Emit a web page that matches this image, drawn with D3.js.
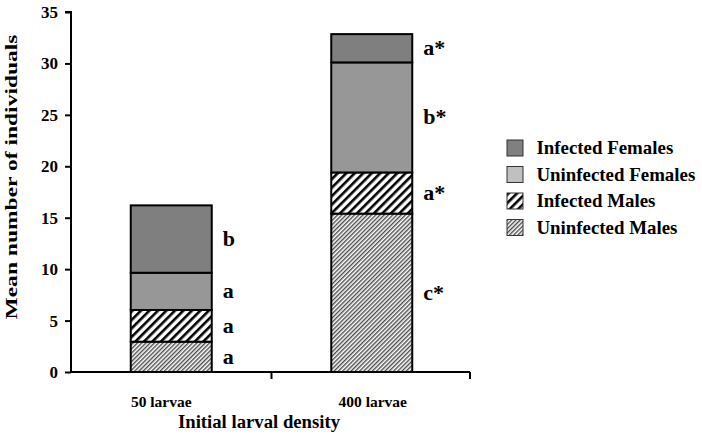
<!DOCTYPE html>
<html lang="en">
<head>
<meta charset="UTF-8">
<title>Mean number of individuals by larval density</title>
<style>
  body, html { margin: 0; padding: 0; background: #fff; }
  svg { display: block; }
  text { font-family: "Liberation Serif", "Times New Roman", serif; font-weight: bold; fill: #000; }
</style>
</head>
<body>
<script src="https://cdn.jsdelivr.net/npm/d3@7"></script>
<script>
// data
var densities = ["50 larvae", "400 larvae"];
var groups = ["Uninfected Males", "Infected Males", "Uninfected Females", "Infected Females"];
var uninfectedMales   = [2.95, 15.4];
var infectedMales     = [3.08, 4.0];
var uninfectedFemales = [3.62, 10.7];
var infectedFemales   = [6.55, 2.75];
var letters50  = ["a", "a", "a", "b"];
var letters400 = ["c*", "a*", "b*", "a*"];
var yTicks = [0, 5, 10, 15, 20, 25, 30, 35];

var width = 702, height = 442;
var svg = d3.select("body").append("svg")
    .attr("width", width)
    .attr("height", height);

var defs = svg.append("defs");
// fine hatch for uninfected males
var p1 = defs.append("pattern").attr("id", "fine")
    .attr("patternUnits", "userSpaceOnUse").attr("width", 3).attr("height", 3)
    .attr("patternTransform", "rotate(45)");
p1.append("rect").attr("width", 3).attr("height", 3).attr("fill", "#fff");
p1.append("rect").attr("width", 1.4).attr("height", 3).attr("fill", "#4a4a4a");
// wide hatch for infected males
var p2 = defs.append("pattern").attr("id", "wide")
    .attr("patternUnits", "userSpaceOnUse").attr("width", 6).attr("height", 6)
    .attr("patternTransform", "rotate(45)");
p2.append("rect").attr("width", 6).attr("height", 6).attr("fill", "#fff");
p2.append("rect").attr("width", 2.6).attr("height", 6).attr("fill", "#000");

var fills = ["url(#fine)", "url(#wide)", "#979797", "#7f7f7f"];
var legendFills = ["url(#fine)", "url(#wide)", "#c0c0c0", "#808080"];

var x = d3.scaleBand().domain(densities).range([71, 472]).paddingInner(0).paddingOuter(0);
var y = d3.scaleLinear().domain([0, 35]).range([372, 12]);
var barW = 81;

var rows = densities.map(function (d, i) {
  return { density: d,
    "Uninfected Males": uninfectedMales[i],
    "Infected Males": infectedMales[i],
    "Uninfected Females": uninfectedFemales[i],
    "Infected Females": infectedFemales[i] };
});
var stacked = d3.stack().keys(groups)(rows);
var letters = [letters50, letters400];

var layer = svg.selectAll("g.layer").data(stacked).enter().append("g")
    .attr("class", "layer")
    .attr("fill", function (d, i) { return fills[i]; });

layer.selectAll("rect").data(function (d) { return d; }).enter().append("rect")
    .attr("x", function (d) { return x(d.data.density) + x.bandwidth() / 2 - barW / 2; })
    .attr("width", barW)
    .attr("y", function (d) { return y(d[1]); })
    .attr("height", function (d) { return y(d[0]) - y(d[1]); })
    .attr("stroke", "#000")
    .attr("stroke-width", 2);

// significance letters
stacked.forEach(function (s, k) {
  s.forEach(function (d, i) {
    svg.append("text")
      .attr("x", x(d.data.density) + x.bandwidth() / 2 + barW / 2 + 11)
      .attr("y", (y(d[0]) + y(d[1])) / 2 + 7)
      .attr("font-size", 22)
      .text(letters[i][k]);
  });
});

// axes
var yAxis = d3.axisLeft(y).tickValues(yTicks).tickSize(6).tickPadding(7);
var gy = svg.append("g").attr("transform", "translate(71,0)").call(yAxis);
gy.select(".domain").attr("stroke", "#000").attr("stroke-width", 2).attr("d", "M-6,12H0V372");
gy.selectAll(".tick line").attr("stroke", "#000").attr("stroke-width", 2);
gy.selectAll(".tick text").attr("font-size", 17).attr("font-family", "Liberation Serif").attr("font-weight", "bold");

var xAxis = d3.axisBottom(x).tickSize(0).tickFormat("");
var gx = svg.append("g").attr("transform", "translate(0,372)").call(xAxis);
gx.select(".domain").attr("stroke", "#000").attr("stroke-width", 2).attr("d", "M71,0H470");
// band boundary ticks
[x(densities[1]), 470].forEach(function (v) {
  gx.append("line").attr("x1", v).attr("x2", v).attr("y1", 0).attr("y2", 7)
    .attr("stroke", "#000").attr("stroke-width", 2);
});
var labelShift = [-10, 1];
densities.forEach(function (d, i) {
  svg.append("text")
    .attr("x", x(d) + x.bandwidth() / 2 + labelShift[i])
    .attr("y", 407)
    .attr("text-anchor", "middle")
    .attr("font-size", 15.5)
    .text(d);
});

svg.append("text")
  .attr("x", 259).attr("y", 428)
  .attr("text-anchor", "middle")
  .attr("font-size", 18)
  .attr("textLength", 162).attr("lengthAdjust", "spacingAndGlyphs")
  .text("Initial larval density");

svg.append("text")
  .attr("transform", "translate(17,177) rotate(-90)")
  .attr("text-anchor", "middle")
  .attr("font-size", 17)
  .attr("textLength", 285).attr("lengthAdjust", "spacingAndGlyphs")
  .text("Mean number of individuals");

// legend (top to bottom: reverse stack order)
var legendOrder = groups.slice().reverse();
var lg = svg.selectAll("g.legend").data(legendOrder).enter().append("g")
    .attr("class", "legend")
    .attr("transform", function (d, i) { return "translate(507," + (140 + i * 26.5) + ")"; });
lg.append("rect")
  .attr("width", 16).attr("height", 16)
  .attr("fill", function (d) { return legendFills[groups.indexOf(d)]; })
  .attr("stroke", "#333").attr("stroke-width", 1);
lg.append("text")
  .attr("x", 28).attr("y", 14)
  .attr("font-size", 18)
  .attr("transform", "scale(1.05,1)")
  .text(function (d) { return d; });
</script>
</body>
</html>
